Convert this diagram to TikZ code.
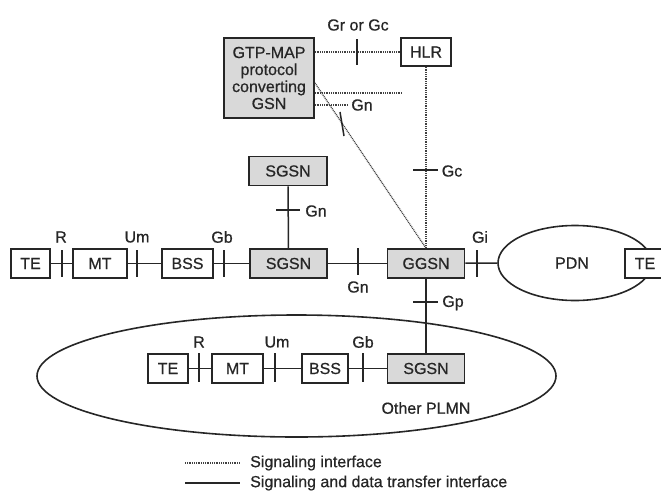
\documentclass[tikz,border=0pt]{standalone}
\usepackage{fontspec}
\setmainfont{Liberation Sans}[FakeBold=0.6]
\usetikzlibrary{shapes.geometric}
\begin{document}
\begin{tikzpicture}[x=1pt,y=-1pt,
  every node/.style={font=\fontsize{16}{17}\selectfont, text=black!85},
  box/.style={draw=black!85, line width=1.6pt, minimum height=29pt, inner sep=0pt, fill=white},
  gbox/.style={box, fill=black!15},
  lab/.style={inner sep=0pt},
  sol/.style={draw=black!85, line width=1.5pt},
  sig/.style={draw=black!75, line width=1.4pt, dash pattern=on 0.9pt off 0.9pt},
  tick/.style={draw=black!85, line width=1.5pt}]
\useasboundingbox (0,0) rectangle (661,496);

% ellipses
\node[draw=black!85, line width=1.6pt, ellipse, minimum width=154pt, minimum height=75pt, inner sep=0pt] (pdn) at (575,263) {};
\node[lab] (pdnl) at (572,263) {PDN};
\draw[black!85, line width=1.6pt] (296.5,376) ellipse [x radius=259.5, y radius=61];
\node[lab] (plmn) at (426,408) {Other PLMN};

% top boxes
\node[gbox, minimum width=90pt, minimum height=80pt, align=center, font=\fontsize{16}{17}\selectfont] (gtp) at (269,78) {GTP-MAP\\protocol\\converting\\GSN};
\node[box, minimum width=50pt, minimum height=28pt] (hlr) at (426,52) {HLR};
\node[gbox, minimum width=78pt] (sgsnu) at (288,171) {SGSN};

% main row
\node[box, minimum width=39pt] (te1) at (30.5,263.5) {TE};
\node[box, minimum width=54pt] (mt1) at (100,263.5) {MT};
\node[box, minimum width=51pt] (bss1) at (187.5,263.5) {BSS};
\node[gbox, minimum width=77pt] (sgsn1) at (288.5,263.5) {SGSN};
\node[gbox, minimum width=77pt] (ggsn) at (426,263.5) {GGSN};
\node[box, minimum width=40pt] (te3) at (645,263.5) {TE};

% lower row
\node[box, minimum width=40pt] (te2) at (168,368.5) {TE};
\node[box, minimum width=51pt] (mt2) at (237.5,368.5) {MT};
\node[box, minimum width=46pt] (bss2) at (325,368.5) {BSS};
\node[gbox, minimum width=77pt] (sgsn2) at (426,368.5) {SGSN};

% solid connectors main row
\draw[sol] (te1) -- (mt1);
\draw[sol] (mt1) -- (bss1);
\draw[sol] (bss1) -- (sgsn1);
\draw[sol] (sgsn1) -- (ggsn);
\draw[sol] (ggsn) -- (pdn.west);
\draw[sol] (sgsnu) -- (sgsn1);
\draw[sol] (ggsn) -- (sgsn2);
% lower row
\draw[sol] (te2) -- (mt2);
\draw[sol] (mt2) -- (bss2);
\draw[sol] (bss2) -- (sgsn2);

% signalling connectors
\draw[sig] (gtp.east |- hlr.west) -- (hlr.west);
\draw[sig] (hlr.south) -- (ggsn.north);
\coordinate (d0) at (315,83);
\draw[sig] (d0) -- (ggsn.north);
\coordinate (d1) at (402,93);
\draw[sig] (gtp.east |- d1) -- (d1);
\coordinate (d2) at (348,105);
\draw[sig] (gtp.east |- d2) -- (d2);

% ticks
\draw[tick] (357,39) -- (357,65);
\draw[tick] (340,112) -- (344,136);
\draw[tick] (413,170) -- (438,170);
\draw[tick] (276,210) -- (300,210);
\draw[tick] (62,250) -- (62,277);
\draw[tick] (137,250) -- (137,277);
\draw[tick] (224,250) -- (224,277);
\draw[tick] (358,248) -- (358,275);
\draw[tick] (477,250) -- (477,277);
\draw[tick] (413,302) -- (438,302);
\draw[tick] (199,353) -- (199,382);
\draw[tick] (275,353) -- (275,382);
\draw[tick] (363,353) -- (363,382);

% labels
\node[lab] (lgr) at (358,25) {Gr or Gc};
\node[lab] (lgn0) at (362,105) {Gn};
\node[lab] (lgc) at (452,171) {Gc};
\node[lab] (lgnu) at (316,211) {Gn};
\node[lab] (lr1) at (61,237) {R};
\node[lab] (lum1) at (137,237) {Um};
\node[lab] (lgb1) at (222,237) {Gb};
\node[lab] (lgi) at (480,237) {Gi};
\node[lab] (lgn1) at (358,287) {Gn};
\node[lab] (lgp) at (453,303) {Gp};
\node[lab] (lr2) at (199,342) {R};
\node[lab] (lum2) at (277,342) {Um};
\node[lab] (lgb2) at (363,342) {Gb};

% legend
\coordinate (l1a) at (185,463); \coordinate (l1b) at (240,463);
\coordinate (l2a) at (185,483); \coordinate (l2b) at (240,483);
\draw[sig] (l1a) -- (l1b);
\draw[sol] (l2a) -- (l2b);
\node[lab, anchor=west] (leg1) at (250,463) {Signaling interface};
\node[lab, anchor=west] (leg2) at (250,483) {Signaling and data transfer interface};
\end{tikzpicture}
\end{document}
